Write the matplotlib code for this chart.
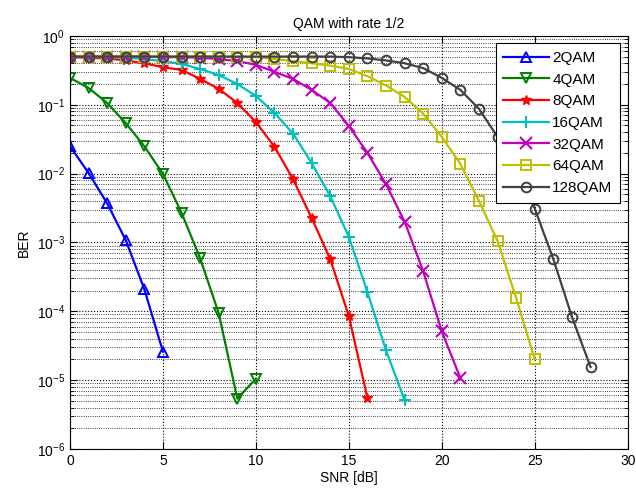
import numpy as np
import matplotlib
matplotlib.use("Agg")
import matplotlib.pyplot as plt
from matplotlib.ticker import LogLocator, NullFormatter

plt.rcParams['font.family'] = ['Liberation Sans', 'DejaVu Sans']

labels = ['2QAM', '4QAM', '8QAM', '16QAM', '32QAM', '64QAM', '128QAM']

snr_2 = [0, 1, 2, 3, 4, 5]
ber_2 = [0.025, 0.0102, 0.0037, 0.00108, 2.1e-4, 2.6e-5]

snr_4 = list(range(11))
ber_4 = [0.245, 0.175, 0.106, 0.054, 0.025, 0.0099, 0.0027, 5.9e-4, 9.4e-5, 5.4e-6, 1.05e-5]

snr_8 = list(range(17))
ber_8 = [0.49, 0.48, 0.47, 0.44, 0.40, 0.35, 0.32, 0.237, 0.17, 0.106, 0.056,
         0.0245, 0.0083, 0.00226, 5.7e-4, 8.5e-5, 5.5e-6]

snr_16 = list(range(19))
ber_16 = [0.5, 0.49, 0.49, 0.48, 0.46, 0.43, 0.39, 0.33, 0.27, 0.2, 0.134,
          0.076, 0.038, 0.0142, 0.0047, 0.0012, 1.9e-4, 2.7e-5, 5.1e-6]

snr_32 = list(range(22))
ber_32 = [0.5, 0.5, 0.5, 0.5, 0.5, 0.49, 0.49, 0.48, 0.46, 0.43, 0.38, 0.30,
          0.237, 0.164, 0.106, 0.049, 0.020, 0.007, 0.002, 3.8e-4, 5.1e-5, 1.07e-5]

snr_64 = list(range(26))
ber_64 = [0.5, 0.5, 0.5, 0.5, 0.5, 0.5, 0.5, 0.5, 0.5, 0.49, 0.49, 0.46, 0.43,
          0.40, 0.37, 0.33, 0.26, 0.19, 0.13, 0.074, 0.034, 0.0138, 0.004,
          0.00105, 1.56e-4, 2.0e-5]

snr_128 = list(range(29))
ber_128 = [0.5, 0.5, 0.5, 0.5, 0.5, 0.5, 0.5, 0.5, 0.5, 0.5, 0.5, 0.5, 0.5,
           0.5, 0.5, 0.49, 0.47, 0.44, 0.40, 0.34, 0.245, 0.164, 0.087, 0.034,
           0.011, 0.0031, 5.7e-4, 8.3e-5, 1.55e-5]

series = [(snr_2, ber_2), (snr_4, ber_4), (snr_8, ber_8), (snr_16, ber_16),
          (snr_32, ber_32), (snr_64, ber_64), (snr_128, ber_128)]
colors = [(0, 0, 1), (0, 0.5, 0), (1, 0, 0), (0, 0.75, 0.75),
          (0.75, 0, 0.75), (0.75, 0.75, 0), (0.25, 0.25, 0.25)]
markers = ['^', 'v', '*', '+', 'x', 's', 'o']

fig = plt.figure(figsize=(6.36, 4.91), dpi=100)
ax = fig.add_axes([0.110, 0.0855, 0.877, 0.8415])

for (x, y), c, m, lab in zip(series, colors, markers, labels):
    if m in ['+', 'x']:
        ax.plot(x, y, color=c, marker=m, lw=1.6, ms=8, mew=1.5, label=lab)
    elif m == '*':
        ax.plot(x, y, color=c, marker=m, lw=1.6, ms=7, label=lab)
    else:
        ax.plot(x, y, color=c, marker=m, lw=1.6, ms=7, mfc='none', mew=1.4, label=lab)

ax.set_yscale('log')
ax.set_xlim(0, 30)
ax.set_ylim(1e-6, 1)
ax.set_xticks([0, 5, 10, 15, 20, 25, 30])
ax.yaxis.set_major_locator(LogLocator(base=10, numticks=10))
ax.yaxis.set_minor_locator(LogLocator(base=10, subs=np.arange(2, 10), numticks=20))
ax.yaxis.set_minor_formatter(NullFormatter())

ax.grid(True, which='major', linestyle=':', color='black', lw=0.8)
ax.grid(True, which='minor', axis='y', linestyle=':', color='black', lw=0.6)
ax.tick_params(which='both', direction='in', top=True, right=True, labelsize=10)
ax.tick_params(which='major', length=5)
ax.tick_params(which='minor', length=3)

ax.set_title('QAM with rate 1/2', fontsize=10)
ax.set_xlabel('SNR [dB]', fontsize=10, labelpad=2)
ax.set_ylabel('BER', fontsize=10)

leg = ax.legend(loc='upper right', fontsize=11, fancybox=False, framealpha=1,
                edgecolor='black', borderaxespad=0.5, handlelength=3.0,
                labelspacing=0.5, handletextpad=0.2, borderpad=0.5)
leg.get_frame().set_linewidth(0.8)

fig.savefig('out.png', dpi=100)
